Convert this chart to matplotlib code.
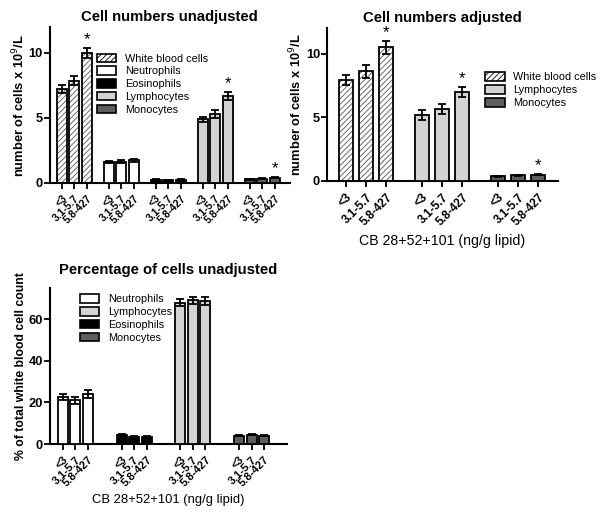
import numpy as np
import matplotlib
matplotlib.use("Agg")
import matplotlib.pyplot as plt
from matplotlib.patches import Patch

plt.rcParams['font.family'] = ['Liberation Sans', 'DejaVu Sans']
plt.rcParams['hatch.linewidth'] = 0.6

groups = ["<3", "3.1-5.7", "5.8-427"]

# Cell numbers unadjusted (x 10^9/L)
unadj_names = ["White blood cells", "Neutrophils", "Eosinophils", "Lymphocytes", "Monocytes"]
unadj_vals = [[7.2, 7.85, 10.0], [1.6, 1.65, 1.75], [0.25, 0.22, 0.25],
              [4.9, 5.3, 6.7], [0.28, 0.33, 0.42]]
unadj_err = [[0.3, 0.35, 0.4], [0.1, 0.1, 0.12], [0.04, 0.04, 0.04],
             [0.2, 0.3, 0.3], [0.04, 0.04, 0.05]]
unadj_star = [True, False, False, True, True]

# Cell numbers adjusted
adj_names = ["White blood cells", "Lymphocytes", "Monocytes"]
adj_vals = [[7.9, 8.6, 10.5], [5.2, 5.65, 7.0], [0.38, 0.45, 0.5]]
adj_err = [[0.4, 0.5, 0.5], [0.4, 0.4, 0.4], [0.04, 0.05, 0.05]]
adj_star = [True, True, True]

# Percentage of cells unadjusted
pct_names = ["Neutrophils", "Eosinophils", "Lymphocytes", "Monocytes"]
pct_vals = [[22.5, 21.0, 24.0], [4.5, 3.5, 3.5], [68.0, 69.0, 68.8], [4.0, 4.5, 4.0]]
pct_err = [[1.5, 1.8, 2.0], [0.4, 0.3, 0.3], [1.5, 1.8, 1.8], [0.3, 0.4, 0.3]]
pct_legend = ["Neutrophils", "Lymphocytes", "Eosinophils", "Monocytes"]

styles = {
    "White blood cells": dict(fc="white", hatch="//////"),
    "Neutrophils": dict(fc="white", hatch=None),
    "Eosinophils": dict(fc="black", hatch=None),
    "Lymphocytes": dict(fc="#d3d3d3", hatch=None),
    "Monocytes": dict(fc="#5e5e5e", hatch=None),
}


def draw_panel(ax, names, vals, errs, stars, gstep, width, xlim, ylim, yticks, lab_fs):
    ticks, labels = [], []
    for g, name in enumerate(names):
        x = g * gstep + np.arange(len(groups))
        st = styles[name]
        if st["hatch"]:
            ax.bar(x, vals[g], width, color="white", edgecolor="#555555",
                   hatch=st["hatch"], lw=0, zorder=2)
            ax.bar(x, vals[g], width, fill=False, edgecolor="black", lw=1.3, zorder=3)
        else:
            ax.bar(x, vals[g], width, color=st["fc"], edgecolor="black", lw=1.3, zorder=3)
        ax.errorbar(x, vals[g], yerr=errs[g], fmt="none", ecolor="black",
                    elinewidth=1.3, capsize=3, capthick=1.3, zorder=4)
        if stars is not None and stars[g]:
            ax.text(x[-1], vals[g][-1] + errs[g][-1] + ylim[1] * 0.005, "*",
                    ha="center", va="bottom", fontsize=12)
        ticks.extend(x)
        labels.extend(groups)
    ax.set_xticks(ticks)
    ax.set_xticklabels(labels, rotation=45, ha="right", rotation_mode="anchor",
                       fontsize=lab_fs, fontweight="bold")
    ax.set_xlim(*xlim)
    ax.set_ylim(*ylim)
    ax.set_yticks(yticks)
    for t in ax.get_yticklabels():
        t.set_fontweight("bold")
        t.set_fontsize(9.3)
    ax.spines["top"].set_visible(False)
    ax.spines["right"].set_visible(False)
    ax.spines["left"].set_linewidth(1.5)
    ax.spines["bottom"].set_linewidth(1.5)
    ax.tick_params(axis="both", width=1.3, length=4)
    ax.tick_params(axis="y", pad=1)


def add_legend(ax, names, anchor):
    hs = []
    for n in names:
        st = styles[n]
        hs.append(Patch(facecolor=st["fc"], edgecolor="black", hatch=st["hatch"], lw=1.2))
    ax.legend(hs, names, loc="upper left", bbox_to_anchor=anchor, frameon=False,
              fontsize=7.8, handlelength=1.8, handleheight=0.85, handletextpad=0.8,
              labelspacing=0.25, borderaxespad=0, borderpad=0)


fig = plt.figure(figsize=(6.0, 5.12), dpi=100)

ax1 = fig.add_axes([0.083, 0.6426, 0.40, 0.3047])
draw_panel(ax1, unadj_names, unadj_vals, unadj_err, unadj_star, 3.75, 0.8,
           (-0.96, 18.2), (0, 12), [0, 5, 10], 7.5)
ax1.set_title("Cell numbers unadjusted", fontsize=10.7, fontweight="bold", pad=4)
ax1.set_ylabel("number of cells x 10$^9$/L", fontsize=9.3, fontweight="bold", labelpad=1)
add_legend(ax1, unadj_names, (0.196, 0.83))

ax2 = fig.add_axes([0.545, 0.6465, 0.385, 0.2988])
draw_panel(ax2, adj_names, adj_vals, adj_err, adj_star, 3.8, 0.7,
           (-0.95, 10.6), (0, 12), [0, 5, 10], 8.5)
ax2.set_title("Cell numbers adjusted", fontsize=10.7, fontweight="bold", pad=4)
ax2.set_ylabel("number of cells x 10$^9$/L", fontsize=9.3, fontweight="bold", labelpad=1)
ax2.set_xlabel("CB 28+52+101 (ng/g lipid)", fontsize=10.2)
add_legend(ax2, adj_names, (0.684, 0.71))

ax3 = fig.add_axes([0.083, 0.1328, 0.395, 0.3047])
draw_panel(ax3, pct_names, pct_vals, pct_err, None, 4.7, 0.8,
           (-1.04, 17.9), (0, 75), [0, 20, 40, 60], 8)
ax3.set_title("Percentage of cells unadjusted", fontsize=10.7, fontweight="bold", pad=10)
ax3.set_ylabel("% of total white blood cell count", fontsize=8.8, fontweight="bold", labelpad=1)
ax3.set_xlabel("CB 28+52+101 (ng/g lipid)", fontsize=9.4)
add_legend(ax3, pct_legend, (0.127, 0.96))

fig.savefig("out.png", dpi=100)
